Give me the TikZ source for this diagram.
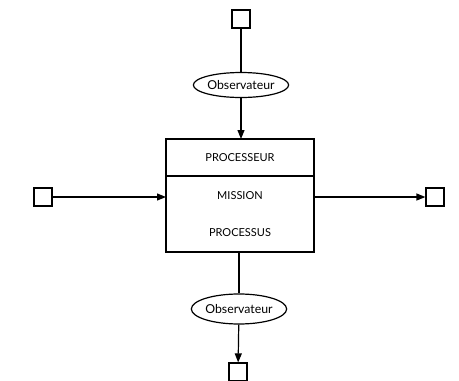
\documentclass[tikz,border=0pt]{standalone}
\usepackage{fontspec}
\setsansfont{Lato}
\usetikzlibrary{arrows.meta,positioning,shapes.geometric}
\tikzset{
  term/.style={rectangle,draw=black,line width=1.2pt,minimum size=18pt,inner sep=0pt},
  obsv/.style={ellipse,draw=black,line width=1.2pt,minimum width=93pt,minimum height=25pt,
               inner sep=0pt,font=\sffamily\fontsize{12.3}{14}\selectfont},
  procbox/.style={rectangle,draw=black,line width=1.2pt,minimum width=148pt,inner sep=0pt,
                  outer sep=0pt,font=\sffamily\fontsize{11}{13}\selectfont},
  flow/.style={-{Triangle[length=9pt,width=7pt]},line width=1.2pt},
  link/.style={line width=1.2pt},
}
\begin{document}
\begin{tikzpicture}[x=1pt,y=-1pt]
  \useasboundingbox (0,0) rectangle (459,381);
  % processor block
  \node[procbox,minimum height=37pt] (PR) at (240,157.5) {PROCESSEUR};
  \node[procbox,minimum height=76pt,below=0pt of PR,align=center] (MP) {MISSION\\[24pt]PROCESSUS};
  % upper observer
  \node[term] (TI) at (241,19) {};
  \node[obsv] (OT) at (241,85) {Observateur};
  \draw[link] (TI) -- (OT);
  \draw[flow] (OT.south) -- (OT.south |- PR.north);
  % input / output
  \node[term] (IN) at (43,197) {};
  \node[term] (OUT) at (435,197) {};
  \draw[flow] (IN) -- (IN -| MP.west);
  \draw[flow] (MP.east |- OUT) -- (OUT);
  % lower observer
  \node[obsv,minimum height=30pt] (OB) at (239,309) {Observateur};
  \node[term] (TO) at (238,372) {};
  \draw[link] (MP.south -| OB) -- (OB);
  \draw[flow] (OB) -- (TO);
\end{tikzpicture}
\end{document}
